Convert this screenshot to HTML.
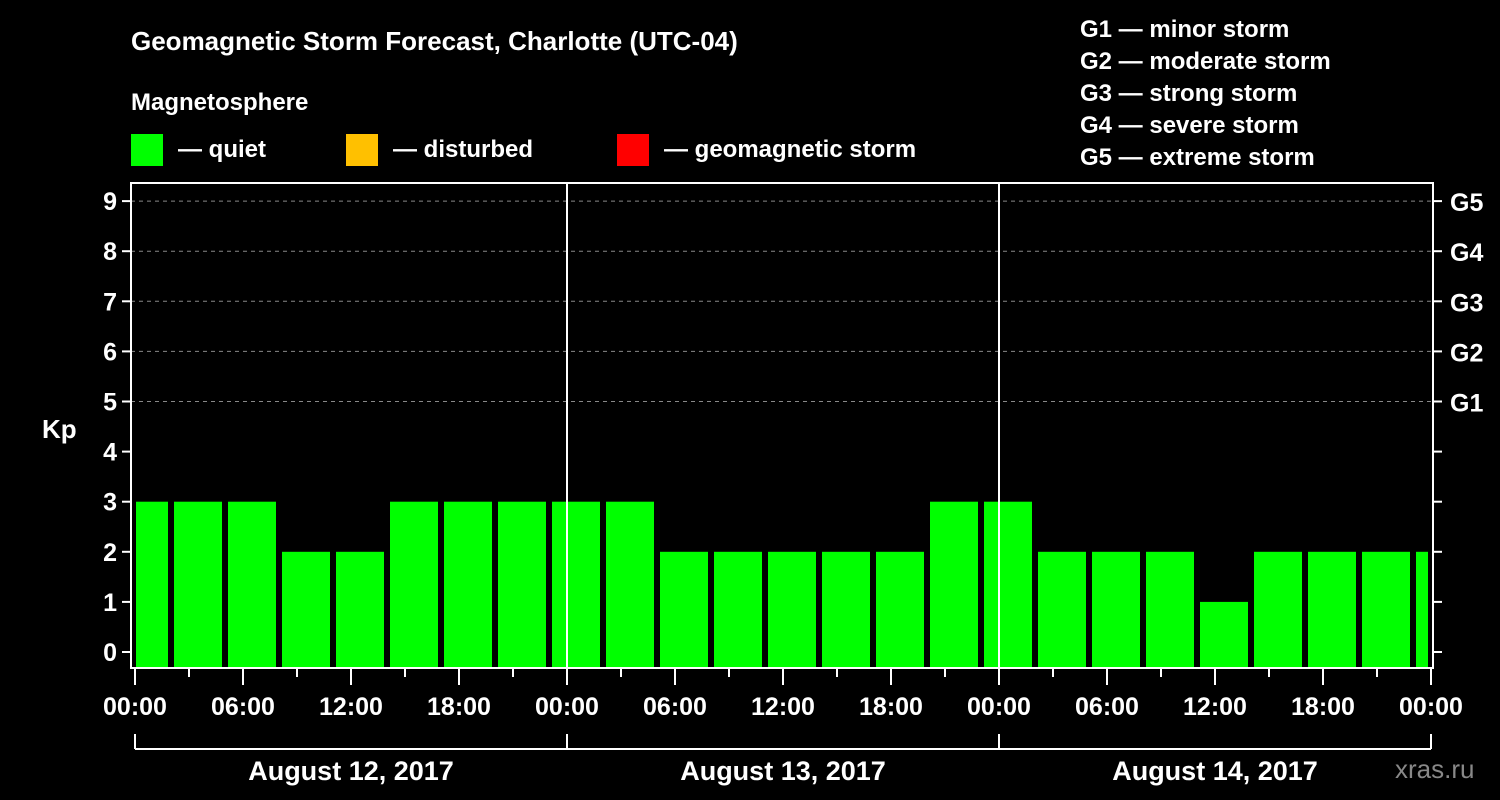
<!DOCTYPE html>
<html><head><meta charset="utf-8"><style>
body{margin:0;background:#000;}
svg{display:block;font-family:"Liberation Sans",Arial,sans-serif;font-weight:bold;}
</style></head><body>
<svg id="chart" width="1500" height="800" viewBox="0 0 1500 800">
<rect width="1500" height="800" fill="#000"/>
<text x="131" y="50" fill="#fff" font-size="26">Geomagnetic Storm Forecast, Charlotte (UTC-04)</text>
<text x="131" y="110" fill="#fff" font-size="24">Magnetosphere</text>
<g><rect x="131" y="134" width="32" height="32" fill="#00ff00"/><text x="178" y="157" fill="#fff" font-size="24">— quiet</text></g>
<g><rect x="346" y="134" width="32" height="32" fill="#ffc000"/><text x="393" y="157" fill="#fff" font-size="24">— disturbed</text></g>
<g><rect x="617" y="134" width="32" height="32" fill="#ff0000"/><text x="664" y="157" fill="#fff" font-size="24">— geomagnetic storm</text></g>
<g fill="#fff" font-size="24">
<text x="1080" y="37">G1 — minor storm</text>
<text x="1080" y="69">G2 — moderate storm</text>
<text x="1080" y="101">G3 — strong storm</text>
<text x="1080" y="133">G4 — severe storm</text>
<text x="1080" y="165">G5 — extreme storm</text>
</g>
<text x="42" y="438" fill="#fff" font-size="26">Kp</text>
<text x="1395" y="778" fill="#888" font-size="26" font-weight="normal">xras.ru</text>
<g id="grid"></g><g id="bars"></g><g id="axes"></g>
</svg>
<script>
const kpValues=[3,3,3,2,2,3,3,3,3,3,2,2,2,2,2,3,3,2,2,2,1,2,2,2,2];
const yTicks=[0,1,2,3,4,5,6,7,8,9];
const gLabels=[[5,"G1"],[6,"G2"],[7,"G3"],[8,"G4"],[9,"G5"]];
const xTickLabels=["00:00","06:00","12:00","18:00","00:00","06:00","12:00","18:00","00:00","06:00","12:00","18:00","00:00"];
const dayLabels=["August 12, 2017","August 13, 2017","August 14, 2017"];
const NS="http://www.w3.org/2000/svg";
const L=131,R=1433,T=183,B=668,X0=135,PXH=18;
const y=v=>652-50.1*v;
const x=h=>X0+h*PXH;
function mk(tag,attrs,parent){const e=document.createElementNS(NS,tag);for(const k in attrs)e.setAttribute(k,attrs[k]);parent.appendChild(e);return e;}
const grid=document.getElementById('grid'),bars=document.getElementById('bars'),axes=document.getElementById('axes');
// grid
yTicks.forEach(v=>{if(v>=5){const l=mk('line',{x1:L,x2:R,y1:y(v),y2:y(v),stroke:'#888','stroke-dasharray':'4,4','stroke-width':1},grid);

}});
// bars
kpValues.forEach((v,i)=>{const c=x(i*3+0.5);let x1=c-24,x2=c+24;x1=Math.max(x1,L+5);x2=Math.min(x2,R-5);
const r=mk('rect',{x:x1,y:y(v),width:x2-x1,height:B-y(v),fill:'#00ff00'},bars);

});
// day separators
[1,2].forEach(d=>{const l=mk('line',{x1:x(d*24),x2:x(d*24),y1:T,y2:B,stroke:'#fff','stroke-width':2},axes);

});
// frame
const fr=mk('rect',{x:L,y:T,width:R-L,height:B-T,fill:'none',stroke:'#fff','stroke-width':2},axes);


// y ticks
yTicks.forEach(v=>{mk('line',{x1:L-9,x2:L,y1:y(v),y2:y(v),stroke:'#fff','stroke-width':2},axes);
mk('line',{x1:R,x2:R+9,y1:y(v),y2:y(v),stroke:'#fff','stroke-width':2},axes);
const t=mk('text',{x:L-14,y:y(v)+9,fill:'#fff','font-size':25,'text-anchor':'end'},axes);t.textContent=v;

});
gLabels.forEach(([v,s])=>{const t=mk('text',{x:1450,y:y(v)+10,fill:'#fff','font-size':25},axes);t.textContent=s;

});
// x ticks
for(let h=0;h<=72;h+=3){const major=h%6===0;mk('line',{x1:x(h),x2:x(h),y1:B,y2:B+(major?17:9),stroke:'#fff','stroke-width':2},axes);}
xTickLabels.forEach((s,i)=>{const t=mk('text',{x:x(i*6),y:715,fill:'#fff','font-size':25,'text-anchor':'middle'},axes);t.textContent=s;

});
// day bracket
mk('line',{x1:x(0),x2:x(72),y1:749,y2:749,stroke:'#fff','stroke-width':2},axes);
for(let d=0;d<=3;d++)mk('line',{x1:x(d*24),x2:x(d*24),y1:734,y2:749,stroke:'#fff','stroke-width':2},axes);
dayLabels.forEach((s,i)=>{const t=mk('text',{x:x(i*24+12),y:780,fill:'#fff','font-size':27,'text-anchor':'middle'},axes);t.textContent=s;

});
</script>
</body></html>
